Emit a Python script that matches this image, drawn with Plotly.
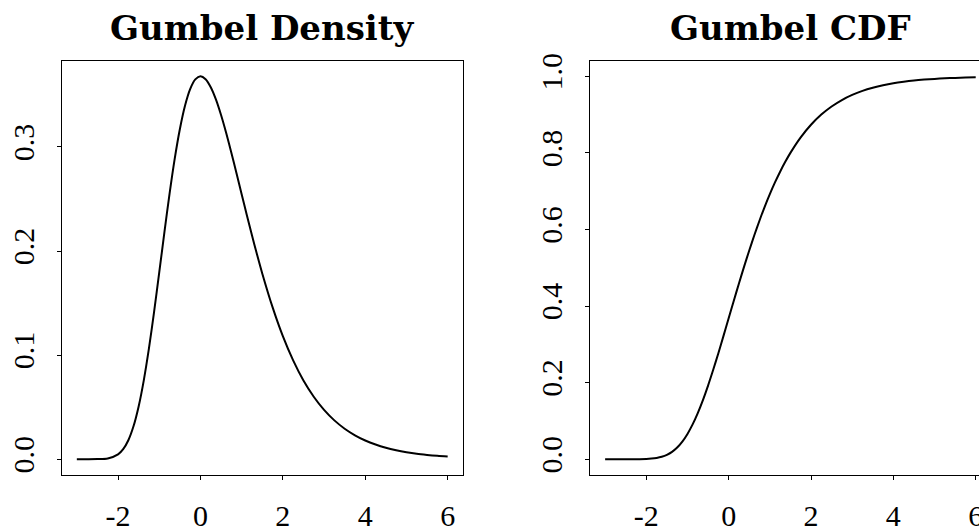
import plotly.graph_objects as go

# x grid
x_vals = [-3.0, -2.75, -2.5, -2.25, -2.0, -1.875, -1.75, -1.625, -1.5, -1.375, -1.25,
          -1.125, -1.0, -0.875, -0.75, -0.625, -0.5, -0.375, -0.25, -0.125, 0.0,
          0.125, 0.25, 0.375, 0.5, 0.625, 0.75, 0.875, 1.0, 1.125, 1.25, 1.375, 1.5,
          1.75, 2.0, 2.25, 2.5, 2.75, 3.0, 3.25, 3.5, 3.75, 4.0, 4.25, 4.5, 4.75, 5.0,
          5.25, 5.5, 5.75, 6.0]

density_vals = [0.0000, 0.0000, 0.0001, 0.0007, 0.0046, 0.0096, 0.0182, 0.0316, 0.0507,
                0.0758, 0.1064, 0.1415, 0.1794, 0.2179, 0.2549, 0.2885, 0.3170, 0.3396,
                0.3556, 0.3649, 0.3679, 0.3651, 0.3574, 0.3457, 0.3307, 0.3134, 0.2945,
                0.2748, 0.2546, 0.2347, 0.2151, 0.1964, 0.1785,
                0.1461, 0.1182, 0.0949, 0.0756, 0.0600, 0.0474, 0.0373, 0.0293, 0.0230,
                0.0180, 0.0141, 0.0110, 0.0086, 0.0067, 0.0052, 0.0041, 0.0032, 0.0025]

cdf_vals = [0.0000, 0.0000, 0.0000, 0.0001, 0.0006, 0.0015, 0.0032, 0.0062, 0.0113,
            0.0192, 0.0305, 0.0460, 0.0660, 0.0908, 0.1204, 0.1544, 0.1923, 0.2334,
            0.2769, 0.3220, 0.3679, 0.4138, 0.4590, 0.5029, 0.5452, 0.5855, 0.6235,
            0.6591, 0.6922, 0.7228, 0.7509, 0.7766, 0.8000,
            0.8405, 0.8734, 0.9000, 0.9212, 0.9381, 0.9514, 0.9620, 0.9703, 0.9768,
            0.9819, 0.9858, 0.9890, 0.9914, 0.9933, 0.9948, 0.9959, 0.9968, 0.9975]

x_ticks = [-2, 0, 2, 4, 6]
dens_ticks = [0.0, 0.1, 0.2, 0.3]
cdf_ticks = [0.0, 0.2, 0.4, 0.6, 0.8, 1.0]
titles = ["Gumbel Density", "Gumbel CDF"]

TITLE_FONT = "DejaVu Serif"
TICK_FONT = "Liberation Serif"
W, H = 979, 527

fig = go.Figure()
fig.add_trace(go.Scatter(x=x_vals, y=density_vals, mode="lines", xaxis="x", yaxis="y",
                         line=dict(color="black", width=2, shape="spline", smoothing=0.8),
                         showlegend=False, hoverinfo="skip"))
fig.add_trace(go.Scatter(x=x_vals, y=cdf_vals, mode="lines", xaxis="x2", yaxis="y2",
                         line=dict(color="black", width=2, shape="spline", smoothing=0.8),
                         showlegend=False, hoverinfo="skip"))

ydom = [1 - 474.5 / H, 1 - 61 / H]
tickfont = dict(family=TICK_FONT, size=30, color="black")

common_x = dict(showline=True, linecolor="black", linewidth=1, mirror=True,
                ticks="outside", ticklen=4, tickcolor="black", tickwidth=1,
                showgrid=False, zeroline=False, tickfont=tickfont,
                tickvals=x_ticks, ticktext=[str(t) for t in x_ticks],
                ticklabelstandoff=10, ticklabeloverflow="allow",
                automargin=False, fixedrange=True)
common_y = dict(showline=True, linecolor="black", linewidth=1,
                ticks="outside", ticklen=4, tickcolor="black", tickwidth=1,
                showgrid=False, zeroline=False, tickfont=tickfont,
                tickangle=-90, ticklabelstandoff=11, ticklabeloverflow="allow",
                automargin=False, fixedrange=True)

fig.update_layout(
    width=W, height=H,
    margin=dict(l=0, r=0, t=0, b=0),
    paper_bgcolor="white", plot_bgcolor="white",
    xaxis=dict(domain=[62 / W, 462.5 / W], range=[-3.36, 6.36], anchor="y", **common_x),
    yaxis=dict(domain=ydom, range=[-0.0147, 0.3826], anchor="x", mirror=True,
               tickvals=dens_ticks, ticktext=["%.1f" % t for t in dens_ticks], **common_y),
    xaxis2=dict(domain=[590.3 / W, 1.0], range=[-3.36, 6.08], anchor="y2", **common_x),
    yaxis2=dict(domain=ydom, range=[-0.04, 1.04], anchor="x2", mirror=False,
                tickvals=cdf_ticks, ticktext=["%.1f" % t for t in cdf_ticks], **common_y),
    annotations=[
        dict(text="<b>%s</b>" % titles[0], x=262.3 / W, y=1 - 28 / H, xref="paper", yref="paper",
             xanchor="center", yanchor="middle", showarrow=False,
             font=dict(family=TITLE_FONT, size=34, color="black")),
        dict(text="<b>%s</b>" % titles[1], x=790.6 / W, y=1 - 28 / H, xref="paper", yref="paper",
             xanchor="center", yanchor="middle", showarrow=False,
             font=dict(family=TITLE_FONT, size=34, color="black")),
    ],
)

fig.write_html("out.html", config={"displayModeBar": False, "staticPlot": True},
               post_script="document.body.style.margin='0';document.body.style.overflow='hidden';")
